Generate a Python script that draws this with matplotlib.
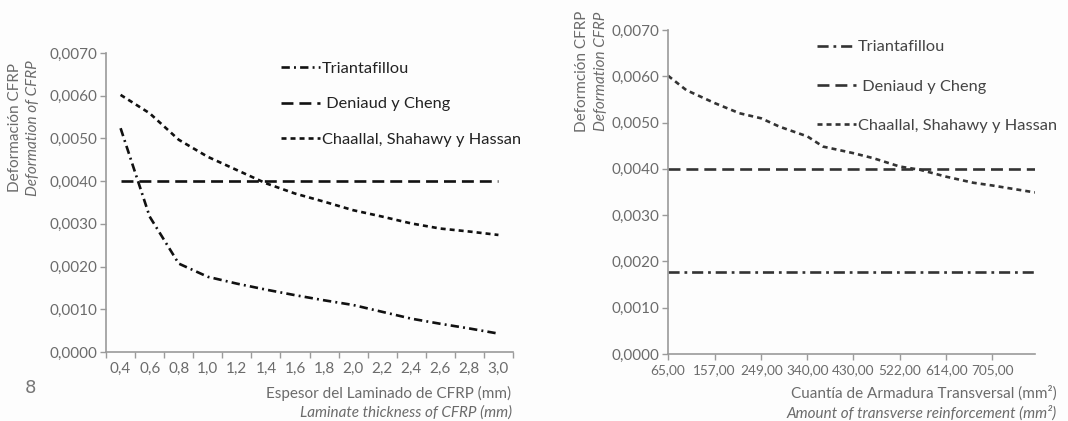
import numpy as np
import matplotlib
matplotlib.use("Agg")
import matplotlib.pyplot as plt
from matplotlib.lines import Line2D

plt.rcParams['font.family'] = ['Lato', 'DejaVu Sans']
plt.rcParams['lines.scale_dashes'] = False

# ---- left chart data (category axis) ----
esp_labels = ["0,4", "0,6", "0,8", "1,0", "1,2", "1,4", "1,6", "1,8",
              "2,0", "2,2", "2,4", "2,6", "2,8", "3,0"]
tri_left = [0.00524, 0.00317, 0.00207, 0.00176, 0.00160, 0.00146, 0.00133,
            0.00121, 0.00110, 0.00094, 0.00078, 0.00066, 0.00055, 0.00043]
den_left = [0.0040] * 14
cha_left = [0.00602, 0.00559, 0.00497, 0.00457, 0.00426, 0.00395, 0.00371,
            0.00352, 0.00332, 0.00317, 0.00301, 0.00289, 0.00282, 0.00274]

# ---- right chart data ----
cuantia_ticks = [65, 157, 249, 340, 430, 522, 614, 705]
cuantia_labels = ["65,00", "157,00", "249,00", "340,00", "430,00",
                  "522,00", "614,00", "705,00"]
cuantia_x = [65, 101, 157, 206, 249, 285, 340, 371, 430, 470, 522, 562,
             614, 667, 705, 789]
cha_right = [0.00601, 0.00570, 0.00542, 0.00520, 0.00509, 0.00491, 0.00470,
             0.00448, 0.00434, 0.00423, 0.00405, 0.00398, 0.00383, 0.00370,
             0.00364, 0.00349]
tri_right = [0.00178, 0.00178]
den_right = [0.0040, 0.0040]
right_ends = [65, 789]

yticks = [0, 0.001, 0.002, 0.003, 0.004, 0.005, 0.006, 0.007]
ylabels = ["0,0000", "0,0010", "0,0020", "0,0030", "0,0040", "0,0050",
           "0,0060", "0,0070"]

gray = '#6b6b6b'
spine = '#9a9a9a'
fs = 11

fig = plt.figure(figsize=(10.68, 4.21), dpi=100)
fig.patch.set_facecolor('#fdfdfd')

tri_ls = (0, (6.0, 3.0, 1.4, 3.0))
den_ls = (0, (8.6, 4.3))
cha_ls = (0, (3.6, 2.9))
lw = 1.9


def style_axes(ax):
    ax.set_facecolor('#fdfdfd')
    for s in ['top', 'right']:
        ax.spines[s].set_visible(False)
    for s in ['left', 'bottom']:
        ax.spines[s].set_color(spine)
        ax.spines[s].set_linewidth(1.2)
    ax.set_ylim(0, 0.007)
    ax.set_yticks(yticks)
    ax.set_yticklabels(ylabels)
    ax.tick_params(axis='y', colors=spine, labelcolor=gray, labelsize=fs,
                   length=4, width=1, pad=2)


# left
ax1 = fig.add_axes([0.0993, 0.164, 0.381, 0.710])
style_axes(ax1)
xs = np.arange(len(esp_labels))
ax1.plot(xs, tri_left, color='#111111', lw=lw, linestyle=tri_ls)
ax1.plot(xs, den_left, color='#111111', lw=lw, linestyle=den_ls)
ax1.plot(xs, cha_left, color='#111111', lw=lw, linestyle=cha_ls)
ax1.set_xlim(-0.5, len(esp_labels) - 0.5)
ax1.set_xticks(xs)
ax1.set_xticklabels(esp_labels)
ax1.set_xticks(np.arange(-0.5, len(esp_labels), 1), minor=True)
ax1.tick_params(axis='x', which='major', length=0, labelcolor=gray,
                labelsize=fs, pad=7)
ax1.tick_params(axis='x', which='minor', length=4, width=1, colors=spine)

h1 = [Line2D([], [], color='#111111', lw=lw, linestyle=tri_ls),
      Line2D([], [], color='#111111', lw=lw, linestyle=den_ls),
      Line2D([], [], color='#111111', lw=lw, linestyle=cha_ls)]
fig.legend(h1, ["Triantafillou", " Deniaud y Cheng", "Chaallal, Shahawy y Hassan"],
           loc='upper left', bbox_to_anchor=(0.249, 0.890), frameon=False,
           handlelength=2.4, handletextpad=0.12, labelspacing=1.3,
           fontsize=11.8, labelcolor='#222222')

# right
ax2 = fig.add_axes([0.6255, 0.159, 0.3435, 0.770])
style_axes(ax2)
dark = '#333333'
tri_r_ls = (0, (8.0, 3.5, 2.0, 3.5))
ax2.plot(right_ends, tri_right, color=dark, lw=lw, linestyle=tri_r_ls)
ax2.plot(right_ends, den_right, color=dark, lw=lw, linestyle=den_ls)
ax2.plot(cuantia_x, cha_right, color=dark, lw=lw, linestyle=cha_ls)
ax2.set_xlim(65, 789)
ax2.set_xticks(cuantia_ticks)
ax2.set_xticklabels(cuantia_labels)
ax2.tick_params(axis='x', colors=spine, labelcolor=gray, labelsize=9.8,
                length=4, width=1, pad=3)

h2 = [Line2D([], [], color=dark, lw=lw, linestyle=tri_r_ls),
      Line2D([], [], color=dark, lw=lw, linestyle=den_ls),
      Line2D([], [], color=dark, lw=lw, linestyle=cha_ls)]
fig.legend(h2, ["Triantafillou", " Deniaud y Cheng", "Chaallal, Shahawy y Hassan"],
           loc='upper left', bbox_to_anchor=(0.751, 0.940), frameon=False,
           handlelength=2.4, handletextpad=0.12, labelspacing=1.5,
           fontsize=11.8, labelcolor='#444444')

# axis titles
fig.text(15 / 1068, 0.696, "Deformación CFRP", rotation=90, ha='center',
         va='center', color=gray, fontsize=fs)
fig.text(33 / 1068, 0.696, "Deformation of CFRP", rotation=90, ha='center',
         va='center', color=gray, fontsize=fs, style='italic')
fig.text(582 / 1068, 0.831, "Deformción CFRP", rotation=90, ha='center',
         va='center', color=gray, fontsize=fs)
fig.text(601 / 1068, 0.831, "Deformation CFRP", rotation=90, ha='center',
         va='center', color=gray, fontsize=fs, style='italic')

fig.text(0.479, 0.0665, "Espesor del Laminado de CFRP (mm)", ha='right',
         va='center', color=gray, fontsize=fs)
fig.text(0.479, 0.019, "Laminate thickness of CFRP (mm)", ha='right',
         va='center', color=gray, fontsize=fs, style='italic')
fig.text(0.9897, 0.0665, "Cuantía de Armadura Transversal (mm²)", ha='right',
         va='center', color=gray, fontsize=fs)
fig.text(0.9897, 0.019, "Amount of transverse reinforcement (mm²)", ha='right',
         va='center', color=gray, fontsize=fs, style='italic')

fig.text(30 / 1068, 1 - 388 / 421, "8", ha='center', va='center',
         color='#777777', fontsize=13, family='DejaVu Sans')

fig.savefig("out.png", dpi=100, facecolor=fig.get_facecolor())
